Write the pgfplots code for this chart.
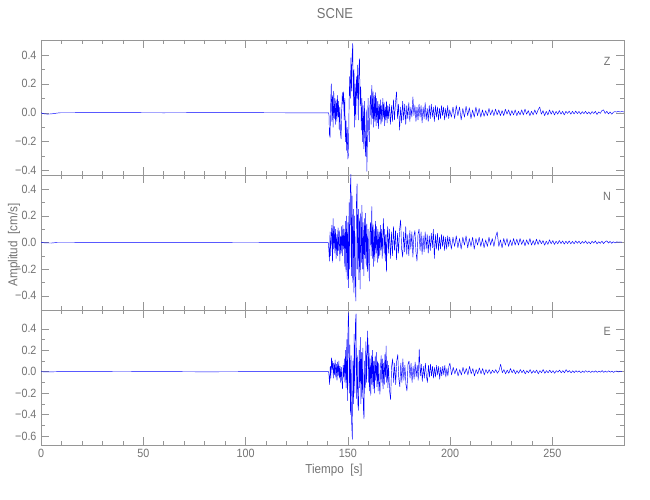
\documentclass[border=0pt]{standalone}
\usepackage{pgfplots}
\pgfplotsset{compat=1.18}
\usepackage{fontspec}
\setmainfont{Liberation Sans}[FakeStretch=0.9]
\definecolor{axgray}{RGB}{150,150,150}
\definecolor{txtgray}{RGB}{115,115,115}
\pgfplotsset{
  seis/.style={
    scale only axis, width=583bp, height=135bp,
    xmin=0, xmax=285,
    axis line style={axgray, line width=0.5bp},
    every tick/.style={axgray, line width=0.5bp},
    major tick length=8bp, minor tick length=4bp,
    xtick={0,50,100,150,200,250},
    minor x tick num=4, minor y tick num=1,
    tick label style={txtgray, font=\fontsize{12}{14}\selectfont},
    yticklabel style={xshift=-1bp},
    xticklabel style={yshift=-1bp},
    anchor=south west,
  },
  trace/.style={blue, line width=0.45bp, line join=round},
}
\begin{document}
\begin{tikzpicture}
\useasboundingbox (0,0) rectangle (650bp,500bp);
% ---------------- Z ----------------
\begin{axis}[seis, at={(41bp,325bp)}, ymin=-0.43, ymax=0.503,
  ytick={-0.4,-0.2,0,0.2,0.4}, yticklabels={−0.4,−0.2,0.0,0.2,0.4}, xticklabels={}]
\addplot[trace] coordinates {
(0,0) (1,-0.006) (3,-0.009) (5,-0.008) (7,-0.004) (9,0) (30,0.001) (60,0) (90,0.001) (120,0) (140.6,0)
(140.8,-0.02) (141.0,-0.15) (141.3,-0.17) (141.6,0.05) (141.9,0.20) (142.2,-0.06) (142.5,0.12) (142.8,-0.10)
(143.1,0.15) (143.4,-0.04) (143.7,0.10) (144.0,-0.08) (144.3,0.09) (144.6,-0.06) (144.9,0.12) (145.2,-0.03)
(145.5,0.08) (145.8,-0.12) (146.1,0.04) (146.4,-0.14) (146.7,-0.18) (147.0,0.02) (147.3,0.14) (147.6,0.06)
(147.9,0.145) (148.2,-0.05) (148.5,0.10) (148.8,-0.20) (149.1,-0.05) (149.4,-0.26) (149.7,-0.10) (150.0,-0.32)
(150.3,-0.29) (150.6,0.05) (150.9,0.25) (151.2,0.10) (151.5,0.38) (151.8,0.15) (152.1,0.40) (152.4,0.48)
(152.7,0.05) (153.0,0.30) (153.3,-0.10) (153.6,0.20) (153.9,-0.05) (154.2,0.25) (154.5,0.10) (154.8,0.33)
(155.1,-0.05) (155.4,0.30) (155.7,0.375) (156.0,0.05) (156.3,0.18) (156.6,-0.12) (156.9,0.10) (157.2,-0.20)
(157.5,0.05) (157.8,-0.25) (158.1,0.08) (158.4,-0.20) (158.7,-0.30) (159.0,0.02) (159.3,-0.405) (159.6,-0.15)
(159.9,0.10) (160.2,-0.12) (160.5,-0.20) (160.8,0.05) (161.1,0.12) (161.4,-0.08) (161.7,0.19) (162.0,-0.04)
(162.3,0.15) (162.6,-0.10) (162.9,0.12) (163.2,-0.06) (163.5,0.14) (163.8,-0.09) (164.1,0.10) (164.4,-0.07)
(164.7,0.08) (165.0,-0.11) (165.3,0.06) (165.6,-0.05) (165.9,0.09) (166.2,-0.08) (166.5,0.05) (166.8,-0.06)
(167.1,0.10) (167.4,-0.03) (167.7,0.07) (168.0,-0.09) (168.3,0.04) (168.6,-0.05) (168.9,0.08) (169.2,-0.07)
(169.5,0.05) (169.8,-0.04)
(170.3,0.06) (170.8,-0.08) (171.3,0.05) (171.8,-0.06) (172.3,0.09) (172.8,-0.05) (173.3,0.07) (173.8,0.145)
(174.3,-0.04) (174.8,0.06) (175.3,-0.12) (175.8,0.04) (176.3,-0.07) (176.8,0.08) (177.3,-0.05) (177.8,0.06)
(178.3,-0.08) (178.8,0.05) (179.3,-0.04) (179.8,0.07) (180.3,-0.06) (180.8,0.04) (181.3,-0.03) (181.8,0.11)
(182.3,-0.02) (182.8,0.05) (183.3,-0.06) (183.8,0.04) (184.3,-0.05) (184.8,0.06) (185.3,-0.03) (185.8,0.05)
(186.3,-0.07) (186.8,0.04) (187.3,-0.04) (187.8,0.07) (188.3,-0.05) (188.8,0.03) (189.3,-0.06) (189.8,0.05)
(190.3,-0.04) (190.8,0.06) (191.3,-0.03) (191.8,0.04) (192.3,-0.06) (192.8,0.05) (193.3,-0.03) (193.8,0.04)
(194.3,-0.05) (194.8,0.03) (195.3,-0.04) (195.8,0.05) (196.3,-0.02) (196.8,0.04) (197.3,-0.05) (197.8,0.03)
(198.3,-0.03) (198.8,0.05) (199.3,-0.04) (199.8,0.02)
(200.6,-0.03) (201.4,0.04) (202.2,-0.04) (203.0,0.05) (203.8,-0.02) (204.6,0.04) (205.4,-0.05) (206.2,0.03)
(207.0,-0.03) (207.8,0.045) (208.6,-0.02) (209.4,0.035) (210.2,-0.04) (211.0,0.02) (211.8,-0.03) (212.6,0.04)
(213.4,-0.02) (214.2,0.03) (215.0,-0.03) (215.8,0.02) (216.6,-0.025) (217.4,0.015) (218.2,-0.02) (219.0,0.03)
(219.8,-0.015) (220.6,0.02) (221.4,-0.02) (222.2,0.025) (223.0,-0.015) (223.8,0.02) (224.6,-0.02) (225.4,0.015)
(226.2,-0.02) (227.0,0.025) (227.8,-0.01) (228.6,0.02) (229.4,-0.02) (230.2,0.015) (231.0,-0.015) (231.8,0.02)
(232.6,-0.02) (233.4,0.01) (234.2,-0.015) (235.0,0.02) (235.8,-0.015) (236.6,0.025) (237.4,-0.01) (238.2,0.015)
(239.0,-0.02) (239.8,0.01) (240.6,-0.015) (241.4,0.02) (242.2,-0.01) (243.0,0.02) (243.8,0.04) (244.6,-0.01)
(245.4,0.015) (246.2,-0.02) (247.0,0.01) (247.8,-0.015) (248.6,0.02) (249.4,-0.01) (250.2,0.015) (251.0,-0.015)
(251.8,0.01) (252.6,-0.01) (253.4,0.015) (254.2,-0.01) (255.0,0.01) (255.8,-0.015) (256.6,0.01) (257.4,-0.005)
(258.2,0.012) (259.0,-0.01) (259.8,0.01) (260.6,-0.008) (261.4,0.012) (262.2,-0.006) (263.0,0.01) (263.8,-0.01)
(264.6,0.008) (265.4,-0.006) (266.2,0.01) (267.0,-0.008) (267.8,0.006) (268.6,-0.01) (269.4,0.008) (270.2,-0.005)
(271.0,0.01) (271.8,-0.012) (272.6,0.006) (273.4,-0.004) (274.2,0.015) (275.0,0.02) (275.8,-0.005) (276.6,0.01)
(277.4,-0.008) (278.2,0.006) (279.0,-0.01) (279.8,0.004) (280.6,0.008) (281.4,0.005) (282.2,0.01) (283.0,0.006)
(284.0,0.008) (285.0,0.006)
};
\node[txtgray, font=\fontsize{12}{14}\selectfont] at (rel axis cs:0.971,0.84) {Z};
\end{axis}
% ---------------- N ----------------
\begin{axis}[seis, at={(41bp,190bp)}, ymin=-0.507, ymax=0.507,
  ytick={-0.4,-0.2,0,0.2,0.4}, yticklabels={−0.4,−0.2,0.0,0.2,0.4}, xticklabels={}]
\addplot[trace] coordinates {
(0,0) (2,-0.003) (5,-0.004) (8,0) (60,0.001) (100,0) (140.4,0.001)
(140.7,-0.05) (141.0,-0.14) (141.3,0.08) (141.6,-0.10) (141.9,0.05) (142.2,0.13) (142.5,-0.15) (142.8,0.18)
(143.1,-0.05) (143.4,0.12) (143.7,-0.08) (144.0,0.10) (144.3,-0.12) (144.6,0.06) (144.9,-0.10) (145.2,0.11)
(145.5,-0.06) (145.8,0.09) (146.1,-0.14) (146.4,0.05) (146.7,-0.08) (147.0,0.12) (147.3,-0.10) (147.6,0.13)
(147.9,-0.05) (148.2,0.10) (148.5,-0.18) (148.8,0.16) (149.1,-0.22) (149.4,0.20) (149.7,-0.28) (150.0,0.15)
(150.3,-0.34) (150.6,0.30) (150.9,-0.20) (151.2,0.40) (151.5,0.52) (151.8,-0.25) (152.1,0.35) (152.4,-0.30)
(152.7,0.25) (153.0,-0.38) (153.3,0.20) (153.6,-0.25) (153.9,-0.44) (154.2,0.30) (154.5,0.44) (154.8,-0.20)
(155.1,0.25) (155.4,-0.28) (155.7,0.18) (156.0,-0.35) (156.3,0.22) (156.6,-0.15) (156.9,0.28) (157.2,-0.20)
(157.5,0.15) (157.8,-0.25) (158.1,0.18) (158.4,-0.12) (158.7,0.22) (159.0,-0.18) (159.3,0.14) (159.6,-0.22)
(159.9,0.10) (160.2,-0.15) (160.5,-0.29) (160.8,0.08) (161.1,0.15) (161.4,-0.10) (161.7,0.27) (162.0,-0.12)
(162.3,0.14) (162.6,-0.18) (162.9,0.10) (163.2,-0.14) (163.5,0.16) (163.8,-0.08) (164.1,0.12) (164.4,-0.15)
(164.7,0.10) (165.0,-0.12) (165.3,0.08) (165.6,-0.10) (165.9,0.13) (166.2,-0.06) (166.5,0.10) (166.8,-0.12)
(167.1,0.06) (167.4,0.18) (167.7,-0.08) (168.0,0.10) (168.3,-0.14) (168.6,0.06) (168.9,-0.22) (169.2,0.05)
(169.5,0.12) (169.8,-0.08)
(170.3,0.10) (170.8,-0.12) (171.3,0.08) (171.8,-0.10) (172.3,0.12) (172.8,-0.06) (173.3,0.09) (173.8,-0.13)
(174.3,0.07) (174.8,-0.08) (175.3,0.10) (175.8,0.17) (176.3,-0.05) (176.8,-0.11) (177.3,0.08) (177.8,-0.07)
(178.3,0.12) (178.8,-0.09) (179.3,0.06) (179.8,-0.10) (180.3,0.09) (180.8,-0.05) (181.3,0.08) (181.8,-0.11)
(182.3,0.05) (182.8,0.09) (183.3,-0.07) (183.8,-0.14) (184.3,0.06) (184.8,0.10) (185.3,-0.06) (185.8,0.08)
(186.3,-0.09) (186.8,0.05) (187.3,-0.07) (187.8,0.08) (188.3,-0.05) (188.8,0.06) (189.3,-0.08) (189.8,0.05)
(190.3,-0.06) (190.8,0.07) (191.3,-0.04) (191.8,0.10) (192.3,-0.12) (192.8,0.06) (193.3,-0.05) (193.8,0.07)
(194.3,-0.06) (194.8,0.04) (195.3,-0.05) (195.8,0.06) (196.3,-0.03) (196.8,0.05) (197.3,-0.06) (197.8,0.04)
(198.3,-0.05) (198.8,0.05) (199.3,-0.03) (199.8,0.04)
(200.6,-0.05) (201.4,0.04) (202.2,-0.03) (203.0,0.05) (203.8,-0.04) (204.6,0.03) (205.4,-0.05) (206.2,0.04)
(207.0,-0.02) (207.8,0.05) (208.6,-0.04) (209.4,0.03) (210.2,-0.03) (211.0,0.04) (211.8,-0.05) (212.6,0.03)
(213.4,-0.02) (214.2,0.04) (215.0,-0.03) (215.8,0.03) (216.6,-0.04) (217.4,0.02) (218.2,-0.03) (219.0,0.04)
(219.8,-0.02) (220.6,0.03) (221.4,-0.03) (222.2,0.04) (223.0,0.08) (223.8,-0.03) (224.6,0.02) (225.4,-0.04)
(226.2,0.03) (227.0,-0.02) (227.8,0.03) (228.6,-0.03) (229.4,0.02) (230.2,-0.025) (231.0,0.03) (231.8,-0.02)
(232.6,0.025) (233.4,-0.02) (234.2,0.03) (235.0,-0.015) (235.8,0.02) (236.6,-0.025) (237.4,0.02) (238.2,-0.015)
(239.0,0.03) (239.8,-0.02) (240.6,0.015) (241.4,-0.02) (242.2,0.025) (243.0,-0.015) (243.8,0.02) (244.6,-0.01)
(245.4,0.015) (246.2,-0.02) (247.0,0.01) (247.8,-0.015) (248.6,0.02) (249.4,-0.01) (250.2,0.015) (251.0,-0.015)
(251.8,0.01) (252.6,-0.01) (253.4,0.015) (254.2,-0.008) (255.0,0.012) (255.8,-0.012) (256.6,0.01) (257.4,-0.008)
(258.2,0.012) (259.0,-0.01) (259.8,0.008) (260.6,-0.01) (261.4,0.012) (262.2,-0.006) (263.0,0.01) (263.8,-0.01)
(264.6,0.008) (265.4,-0.006) (266.2,0.012) (267.0,-0.008) (267.8,0.006) (268.6,-0.01) (269.4,0.01) (270.2,-0.005)
(271.0,0.012) (271.8,-0.01) (272.6,0.006) (273.4,-0.006) (274.2,0.01) (275.0,-0.008) (275.8,0.006) (276.6,0.012)
(277.4,-0.004) (278.2,0.008) (279.0,-0.006) (279.8,0.006) (280.6,-0.004) (281.4,0.005) (282.2,0.002) (283.0,0.004)
(284.0,0.003)
};
\node[txtgray, font=\fontsize{12}{14}\selectfont] at (rel axis cs:0.971,0.84) {N};
\end{axis}
% ---------------- E ----------------
\begin{axis}[seis, at={(41bp,55bp)}, ymin=-0.683, ymax=0.575,
  ytick={-0.6,-0.4,-0.2,0,0.2,0.4}, yticklabels={−0.6,−0.4,−0.2,0.0,0.2,0.4},
  xticklabels={0,50,100,150,200,250}]
\addplot[trace] coordinates {
(0,0) (3,-0.002) (8,0) (40,0.002) (80,-0.001) (120,0.001) (140.6,0)
(140.8,-0.04) (141.1,-0.12) (141.4,0.05) (141.7,-0.06) (142.0,0.13) (142.3,0.02) (142.6,0.10) (142.9,-0.06)
(143.2,0.08) (143.5,-0.03) (143.8,0.11) (144.1,-0.05) (144.4,0.07) (144.7,-0.08) (145.0,0.09) (145.3,-0.04)
(145.6,0.10) (145.9,-0.06) (146.2,0.05) (146.5,-0.10) (146.8,0.04) (147.1,-0.08) (147.4,-0.16) (147.7,0.06)
(148.0,-0.05) (148.3,0.12) (148.6,-0.10) (148.9,0.20) (149.2,-0.15) (149.5,0.30) (149.8,-0.27) (150.1,0.45)
(150.4,0.55) (150.7,-0.20) (151.0,0.25) (151.3,-0.40) (151.6,0.15) (151.9,-0.50) (152.2,-0.63) (152.5,0.10)
(152.8,-0.30) (153.1,0.35) (153.4,-0.20) (153.7,0.45) (154.0,0.54) (154.3,-0.25) (154.6,0.15) (154.9,-0.30)
(155.2,-0.36) (155.5,0.20) (155.8,-0.15) (156.1,0.32) (156.4,-0.30) (156.7,0.18) (157.0,-0.25) (157.3,0.22)
(157.6,-0.35) (157.9,-0.44) (158.2,0.10) (158.5,-0.15) (158.8,0.28) (159.1,-0.10) (159.4,0.20) (159.7,0.38)
(160.0,-0.10) (160.3,0.25) (160.6,-0.18) (160.9,0.12) (161.2,-0.22) (161.5,0.15) (161.8,-0.12) (162.1,0.20)
(162.4,-0.16) (162.7,0.10) (163.0,-0.20) (163.3,0.14) (163.6,-0.08) (163.9,0.18) (164.2,-0.14) (164.5,0.10)
(164.8,-0.18) (165.1,0.08) (165.4,-0.12) (165.7,-0.21) (166.0,0.06) (166.3,0.15) (166.6,-0.10) (166.9,0.12)
(167.2,-0.16) (167.5,0.08) (167.8,-0.12) (168.1,0.16) (168.4,-0.05) (168.7,0.24) (169.0,-0.10) (169.3,0.10)
(169.6,-0.15) (169.9,0.06)
(170.4,-0.18) (170.9,-0.26) (171.4,0.05) (171.9,0.12) (172.4,-0.10) (172.9,0.08) (173.4,-0.12) (173.9,0.10)
(174.4,0.16) (174.9,-0.06) (175.4,-0.14) (175.9,0.08) (176.4,-0.10) (176.9,0.12) (177.4,-0.08) (177.9,0.06)
(178.4,-0.12) (178.9,-0.18) (179.4,0.07) (179.9,0.10) (180.4,-0.06) (180.9,0.08) (181.4,-0.10) (181.9,0.05)
(182.4,-0.07) (182.9,0.09) (183.4,-0.05) (183.9,0.06) (184.4,-0.08) (184.9,0.21) (185.4,-0.04) (185.9,0.07)
(186.4,-0.09) (186.9,0.05) (187.4,-0.06) (187.9,0.08) (188.4,-0.04) (188.9,-0.10) (189.4,0.06) (189.9,-0.05)
(190.4,0.07) (190.9,-0.04) (191.4,0.05) (191.9,-0.06) (192.4,0.04) (192.9,-0.05) (193.4,0.06) (193.9,-0.03)
(194.4,0.05) (194.9,-0.07) (195.4,0.04) (195.9,-0.04) (196.4,0.05) (196.9,-0.03) (197.4,0.06) (197.9,-0.05)
(198.4,0.03) (198.9,-0.04) (199.4,0.05) (199.9,0.08)
(200.7,-0.03) (201.5,0.04) (202.3,-0.02) (203.1,0.03) (203.9,-0.04) (204.7,0.02) (205.5,-0.03) (206.3,0.04)
(207.1,-0.02) (207.9,0.03) (208.7,-0.03) (209.5,0.05) (210.3,-0.02) (211.1,0.03) (211.9,-0.04) (212.7,0.02)
(213.5,-0.02) (214.3,0.035) (215.1,-0.02) (215.9,0.03) (216.7,-0.03) (217.5,0.02) (218.3,-0.015) (219.1,0.02)
(219.9,-0.02) (220.7,0.015) (221.5,-0.01) (222.3,0.02) (223.1,-0.015) (223.9,0.01) (224.7,0.07) (225.5,-0.01)
(226.3,0.02) (227.1,-0.02) (227.9,0.015) (228.7,-0.015) (229.5,0.03) (230.3,-0.01) (231.1,0.02) (231.9,-0.02)
(232.7,0.01) (233.5,-0.015) (234.3,0.02) (235.1,-0.01) (235.9,0.015) (236.7,-0.02) (237.5,0.01) (238.3,-0.01)
(239.1,0.02) (239.9,-0.015) (240.7,0.01) (241.5,-0.01) (242.3,0.015) (243.1,-0.02) (243.9,0.01) (244.7,-0.01)
(245.5,0.02) (246.3,-0.015) (247.1,0.01) (247.9,-0.01) (248.7,0.015) (249.5,-0.01) (250.3,0.01) (251.1,-0.015)
(251.9,0.01) (252.7,-0.005) (253.5,0.015) (254.3,-0.01) (255.1,0.01) (255.9,-0.01) (256.7,0.02) (257.5,-0.005)
(258.3,0.01) (259.1,-0.01) (259.9,0.008) (260.7,-0.008) (261.5,0.01) (262.3,-0.005) (263.1,0.008) (263.9,-0.01)
(264.7,0.006) (265.5,-0.006) (266.3,0.01) (267.1,-0.005) (267.9,0.008) (268.7,-0.008) (269.5,0.006) (270.3,-0.005)
(271.1,0.008) (271.9,-0.006) (272.7,0.005) (273.5,-0.004) (274.3,0.01) (275.1,-0.006) (275.9,0.005) (276.7,-0.005)
(277.5,0.008) (278.3,-0.004) (279.1,0.005) (279.9,-0.006) (280.7,0.004) (281.5,0.006) (282.3,-0.003) (283.1,0.005)
(284.0,0.002)
};
\node[txtgray, font=\fontsize{12}{14}\selectfont] at (rel axis cs:0.971,0.84) {E};
\end{axis}
% ---------------- titles ----------------
\node[txtgray, font=\fontsize{14.5}{17}\selectfont] at (335bp,486bp) {SCNE};
\node[txtgray, font=\fontsize{13}{15}\selectfont, rotate=90] at (14bp,255bp) {Amplitud\ \ [cm/s]};
\node[txtgray, font=\fontsize{13}{15}\selectfont] at (334bp,30bp) {Tiempo\ \ [s]};
\end{tikzpicture}
\end{document}
